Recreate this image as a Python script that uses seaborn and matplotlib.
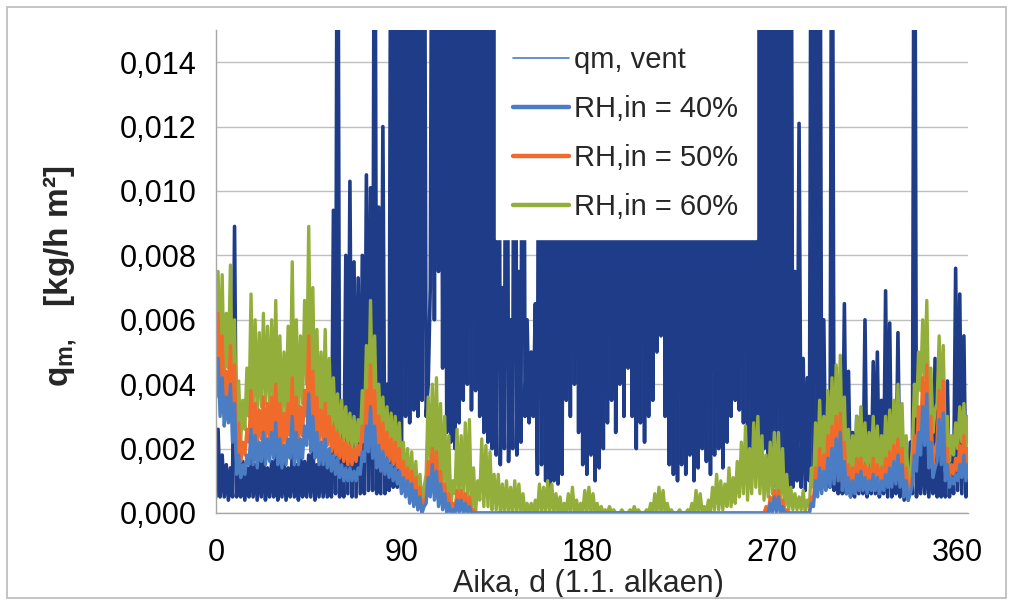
import matplotlib
matplotlib.use("Agg")
import matplotlib.pyplot as plt
import pandas as pd
import seaborn as sns
from matplotlib.lines import Line2D
from matplotlib.patches import Rectangle
from matplotlib.ticker import FuncFormatter

# ---------------- data (values in 1e-4 kg/h m2, one lo/hi pair per 2-day bin) -------------
days = list(range(0, 365, 2))
SCALE = 1e-4

vent_hi = [
    26, 18, 15, 14, 89, 20, 16, 14, 18, 15,
    17, 19, 14, 16, 20, 15, 17, 14, 18, 15,
    20, 16, 18, 22, 15, 18, 16, 14, 94, 250,
    30, 80, 103, 78, 73, 80, 105, 101, 250, 95,
    120, 40, 250, 250, 250, 250, 250, 250, 250, 250,
    250, 40, 250, 250, 250, 250, 250, 250, 250, 250,
    250, 250, 250, 250, 250, 250, 250, 250, 250, 70,
    250, 60, 250, 75, 250, 60, 50, 65, 250, 250,
    250, 250, 250, 250, 250, 250, 250, 250, 250, 250,
    250, 250, 250, 250, 250, 250, 250, 250, 250, 250,
    250, 250, 250, 250, 250, 250, 250, 250, 250, 250,
    250, 250, 250, 250, 250, 250, 250, 250, 250, 250,
    250, 250, 250, 250, 250, 250, 250, 250, 250, 250,
    250, 250, 250, 250, 250, 250, 250, 250, 250, 250,
    75, 121, 48, 42, 250, 250, 250, 60, 35, 250,
    45, 30, 65, 44, 25, 30, 28, 60, 30, 47,
    50, 35, 69, 59, 30, 56, 25, 20, 22, 250,
    30, 25, 22, 20, 48, 25, 20, 41, 22, 76,
    68, 55, 20,
]
vent_lo = [
    5, 5, 5, 4, 5, 5, 5, 4, 5, 5,
    4, 5, 4, 5, 5, 4, 5, 4, 5, 5,
    4, 5, 5, 5, 4, 5, 5, 5, 5, 6,
    5, 5, 6, 5, 5, 6, 6, 7, 7, 6,
    6, 6, 7, 8, 8, 20, 30, 28, 32, 30,
    35, 30, 70, 60, 75, 45, 25, 22, 20, 28,
    35, 40, 32, 38, 30, 25, 22, 20, 18, 15,
    20, 16, 20, 18, 22, 30, 28, 30, 12, 15,
    10, 8, 10, 9, 12, 35, 30, 40, 25, 15,
    12, 18, 10, 14, 20, 28, 35, 25, 40, 30,
    45, 30, 20, 28, 22, 30, 35, 50, 55, 30,
    15, 12, 10, 15, 12, 18, 10, 14, 20, 16,
    12, 18, 20, 14, 22, 30, 35, 32, 28, 20,
    18, 25, 15, 20, 12, 18, 8, 6, 10, 5,
    8, 10, 8, 7, 10, 12, 15, 10, 8, 8,
    7, 6, 6, 6, 5, 5, 6, 6, 5, 6,
    6, 5, 6, 5, 5, 6, 5, 4, 4, 6,
    5, 6, 6, 5, 6, 5, 5, 5, 5, 6,
    7, 6, 5,
]

rh40_hi = [
    48, 42, 36, 40, 34, 18, 15, 18, 26, 24,
    22, 25, 23, 25, 28, 23, 21, 23, 30, 25,
    23, 27, 37, 30, 25, 22, 23, 20, 18, 17,
    15, 14, 14, 13, 14, 19, 27, 33, 27, 21,
    19, 17, 15, 14, 13, 11, 10, 9, 7, 5,
    2, 11, 15, 13, 9, 6, 3, 1, 4, 4,
    3, 2, 0, 0, 0, 0, 0, 0, 0, 0,
    0, 0, 0, 0, 0, 0, 0, 0, 0, 0,
    0, 0, 0, 0, 0, 0, 0, 0, 0, 0,
    0, 0, 0, 0, 0, 0, 0, 0, 0, 0,
    0, 0, 0, 0, 0, 0, 0, 0, 0, 0,
    0, 0, 0, 0, 0, 0, 0, 0, 0, 0,
    0, 0, 0, 0, 0, 0, 0, 0, 0, 0,
    0, 0, 0, 0, 3, 5, 5, 2, 0, 0,
    0, 0, 0, 0, 3, 10, 14, 13, 17, 20,
    23, 25, 16, 11, 10, 12, 13, 11, 10, 12,
    11, 10, 12, 14, 16, 18, 15, 10, 6, 18,
    25, 33, 37, 22, 14, 29, 31, 15, 11, 12,
    15, 18, 15,
]
rh40_lo = [
    36, 30, 27, 28, 22, 12, 11, 12, 15, 15,
    14, 16, 15, 16, 17, 15, 14, 15, 17, 15,
    15, 17, 21, 19, 17, 15, 15, 14, 13, 12,
    11, 10, 10, 10, 10, 12, 16, 19, 17, 14,
    13, 12, 11, 10, 9, 6, 5, 3, 2, 1,
    0, 3, 5, 4, 2, 1, 0, 0, 0, 0,
    0, 0, 0, 0, 0, 0, 0, 0, 0, 0,
    0, 0, 0, 0, 0, 0, 0, 0, 0, 0,
    0, 0, 0, 0, 0, 0, 0, 0, 0, 0,
    0, 0, 0, 0, 0, 0, 0, 0, 0, 0,
    0, 0, 0, 0, 0, 0, 0, 0, 0, 0,
    0, 0, 0, 0, 0, 0, 0, 0, 0, 0,
    0, 0, 0, 0, 0, 0, 0, 0, 0, 0,
    0, 0, 0, 0, 0, 0, 0, 0, 0, 0,
    0, 0, 0, 0, 0, 2, 5, 6, 7, 8,
    9, 10, 7, 6, 5, 6, 7, 7, 6, 7,
    7, 6, 7, 8, 8, 9, 8, 5, 4, 9,
    13, 18, 21, 14, 11, 16, 15, 10, 8, 9,
    10, 11, 10,
]

rh50_hi = [
    62, 55, 44, 52, 46, 28, 22, 26, 38, 34,
    32, 36, 34, 36, 40, 34, 31, 34, 42, 36,
    33, 38, 55, 44, 36, 32, 34, 30, 27, 25,
    23, 22, 21, 20, 21, 27, 38, 46, 38, 30,
    28, 25, 23, 22, 20, 16, 14, 13, 11, 8,
    4, 16, 20, 19, 13, 9, 6, 3, 7, 7,
    6, 5, 1, 0, 0, 0, 0, 0, 0, 0,
    0, 0, 0, 0, 0, 0, 0, 0, 0, 0,
    0, 0, 0, 0, 0, 0, 0, 0, 0, 0,
    0, 0, 0, 0, 0, 0, 0, 0, 0, 0,
    0, 0, 0, 0, 0, 0, 0, 0, 0, 0,
    0, 0, 0, 0, 0, 0, 0, 0, 0, 0,
    0, 0, 0, 0, 0, 0, 0, 0, 0, 0,
    0, 0, 0, 2, 5, 7, 7, 4, 1, 0,
    0, 0, 0, 0, 5, 14, 20, 18, 24, 27,
    30, 31, 22, 15, 14, 17, 17, 15, 14, 17,
    15, 14, 17, 19, 21, 23, 20, 14, 8, 24,
    33, 42, 46, 30, 20, 38, 41, 20, 15, 17,
    21, 24, 20,
]
rh50_lo = [
    45, 38, 34, 36, 30, 17, 16, 18, 22, 22,
    21, 23, 22, 23, 24, 21, 20, 21, 24, 22,
    21, 24, 30, 27, 24, 22, 22, 21, 19, 18,
    17, 16, 15, 15, 16, 18, 22, 26, 24, 21,
    19, 17, 16, 15, 14, 9, 7, 5, 3, 1,
    0, 5, 8, 7, 4, 2, 1, 0, 1, 1,
    1, 0, 0, 0, 0, 0, 0, 0, 0, 0,
    0, 0, 0, 0, 0, 0, 0, 0, 0, 0,
    0, 0, 0, 0, 0, 0, 0, 0, 0, 0,
    0, 0, 0, 0, 0, 0, 0, 0, 0, 0,
    0, 0, 0, 0, 0, 0, 0, 0, 0, 0,
    0, 0, 0, 0, 0, 0, 0, 0, 0, 0,
    0, 0, 0, 0, 0, 0, 0, 0, 0, 0,
    0, 0, 0, 0, 0, 1, 1, 0, 0, 0,
    0, 0, 0, 0, 0, 4, 8, 9, 10, 11,
    12, 13, 10, 8, 7, 8, 9, 9, 8, 9,
    9, 8, 9, 10, 11, 12, 10, 7, 5, 12,
    18, 24, 28, 19, 15, 22, 20, 13, 11, 12,
    13, 15, 14,
]

rh60_hi = [
    75, 74, 62, 77, 60, 41, 35, 45, 68, 60,
    56, 62, 58, 60, 66, 55, 50, 58, 78, 60,
    55, 66, 89, 70, 57, 50, 57, 48, 42, 37,
    35, 33, 31, 30, 29, 38, 52, 66, 55, 40,
    36, 33, 31, 30, 28, 22, 20, 19, 16, 12,
    8, 36, 40, 42, 34, 30, 24, 10, 26, 24,
    28, 29, 14, 10, 23, 21, 19, 12, 12, 9,
    10, 8, 10, 9, 6, 3, 3, 4, 9, 8,
    10, 9, 6, 5, 3, 6, 8, 4, 3, 7,
    8, 6, 3, 2, 1, 2, 1, 0, 1, 0,
    1, 2, 1, 0, 1, 3, 6, 8, 7, 3,
    1, 0, 1, 0, 1, 3, 7, 6, 2, 4,
    8, 12, 10, 9, 14, 11, 16, 22, 27, 20,
    28, 30, 24, 18, 22, 25, 25, 20, 12, 8,
    6, 5, 7, 4, 14, 28, 35, 30, 38, 42,
    46, 49, 36, 26, 24, 30, 33, 28, 25, 30,
    27, 24, 30, 32, 35, 40, 34, 24, 12, 40,
    50, 60, 66, 45, 32, 55, 52, 30, 24, 28,
    33, 34, 30,
]
rh60_lo = [
    50, 46, 40, 45, 35, 24, 22, 26, 30, 32,
    30, 33, 34, 33, 32, 30, 29, 30, 33, 32,
    30, 34, 40, 36, 30, 29, 29, 28, 26, 25,
    23, 22, 21, 20, 20, 22, 26, 30, 30, 27,
    25, 22, 20, 19, 18, 12, 8, 6, 4, 2,
    1, 12, 15, 14, 10, 8, 4, 1, 6, 4,
    6, 4, 0, 0, 4, 2, 2, 1, 1, 0,
    0, 0, 0, 0, 0, 0, 0, 0, 0, 0,
    0, 0, 0, 0, 0, 0, 0, 0, 0, 0,
    0, 0, 0, 0, 0, 0, 0, 0, 0, 0,
    0, 0, 0, 0, 0, 0, 0, 0, 0, 0,
    0, 0, 0, 0, 0, 0, 0, 0, 0, 0,
    0, 1, 1, 1, 2, 2, 3, 5, 6, 4,
    6, 8, 6, 4, 5, 6, 5, 4, 2, 1,
    1, 1, 1, 0, 2, 8, 12, 14, 16, 18,
    18, 20, 16, 12, 11, 13, 15, 14, 13, 14,
    13, 12, 14, 15, 16, 17, 15, 11, 8, 20,
    30, 38, 42, 30, 25, 34, 32, 20, 16, 18,
    20, 22, 20,
]

x_ticks = [0, 90, 180, 270, 360]
y_ticks = [0.000, 0.002, 0.004, 0.006, 0.008, 0.010, 0.012, 0.014]
labels = ["qm, vent", "RH,in = 40%", "RH,in = 50%", "RH,in = 60%"]
x_label = "Aika, d (1.1. alkaen)"

C_VENT = "#1F3C88"
C_40 = "#4A7DC4"
C_50 = "#F06A2C"
C_60 = "#94AE3C"


def zigzag(lo, hi):
    xs, ys = [], []
    for d, a, b in zip(days, lo, hi):
        xs += [d, d + 1]
        ys += [a * SCALE, b * SCALE]
    return pd.DataFrame({"day": xs, "q": ys})


# ---------------- figure ----------------
sns.set_theme(style="white")
plt.rcParams["font.family"] = ["Liberation Sans", "DejaVu Sans"]
plt.rcParams["mathtext.fontset"] = "custom"
plt.rcParams["mathtext.rm"] = "Liberation Sans"
plt.rcParams["mathtext.bf"] = "Liberation Sans:bold"
plt.rcParams["mathtext.it"] = "Liberation Sans:italic"

fig = plt.figure(figsize=(10.13, 6.05), dpi=100)
ax = fig.add_axes([216 / 1013, 1 - 513 / 605, (968 - 216) / 1013, (513 - 30) / 605])

FS = 22
for lo, hi, col, lw in [(vent_lo, vent_hi, C_VENT, 2.6), (rh60_lo, rh60_hi, C_60, 2.4),
                        (rh50_lo, rh50_hi, C_50, 2.4), (rh40_lo, rh40_hi, C_40, 2.4)]:
    sns.lineplot(data=zigzag(lo, hi), x="day", y="q", ax=ax, color=col,
                 linewidth=lw, estimator=None, sort=False, legend=False)

ax.set_xlim(0, 365)
ax.set_ylim(0, 0.015)
ax.set_xticks(x_ticks)
ax.set_yticks(y_ticks)
ax.yaxis.set_major_formatter(FuncFormatter(lambda v, _: f"{v:.3f}".replace(".", ",")))
ax.grid(axis="y", color="#BFBFBF", linewidth=1.0)
ax.set_axisbelow(True)
for s in ["top", "right"]:
    ax.spines[s].set_visible(False)
for s in ["left", "bottom"]:
    ax.spines[s].set_color("#A6A6A6")
    ax.spines[s].set_linewidth(1.0)
ax.tick_params(axis="both", which="major", colors="#A6A6A6", length=5, width=1,
               direction="out", labelcolor="#000000", labelsize=FS)
ax.tick_params(axis="x", pad=13)
ax.tick_params(axis="y", pad=9)

ax.set_xlabel(x_label, fontsize=FS)
ax.xaxis.set_label_coords(0.495, -0.115)
ax.set_ylabel(r"$\mathbf{q}_{\mathbf{m,}}$   [kg/h m²]", fontsize=24, fontweight="bold")
ax.yaxis.set_label_coords(-0.182, 0.49)

handles = [
    Line2D([], [], color=C_40, linewidth=1.2),
    Line2D([], [], color=C_40, linewidth=3.2),
    Line2D([], [], color=C_50, linewidth=3.2),
    Line2D([], [], color=C_60, linewidth=3.2),
]
leg = ax.legend(handles, labels, loc="upper left", bbox_to_anchor=(0.372, 1.003),
                borderaxespad=0, fontsize=21, frameon=True, fancybox=False,
                framealpha=1.0, facecolor="white", edgecolor="white",
                handlelength=1.9, handletextpad=0.2, labelspacing=0.72,
                borderpad=0.6)

fig.patches.append(Rectangle((7 / 1013, 7 / 605), 999 / 1013, 591 / 605,
                             transform=fig.transFigure, fill=False,
                             edgecolor="#BFBFBF", linewidth=1.3))

fig.savefig("out.png", dpi=100)
